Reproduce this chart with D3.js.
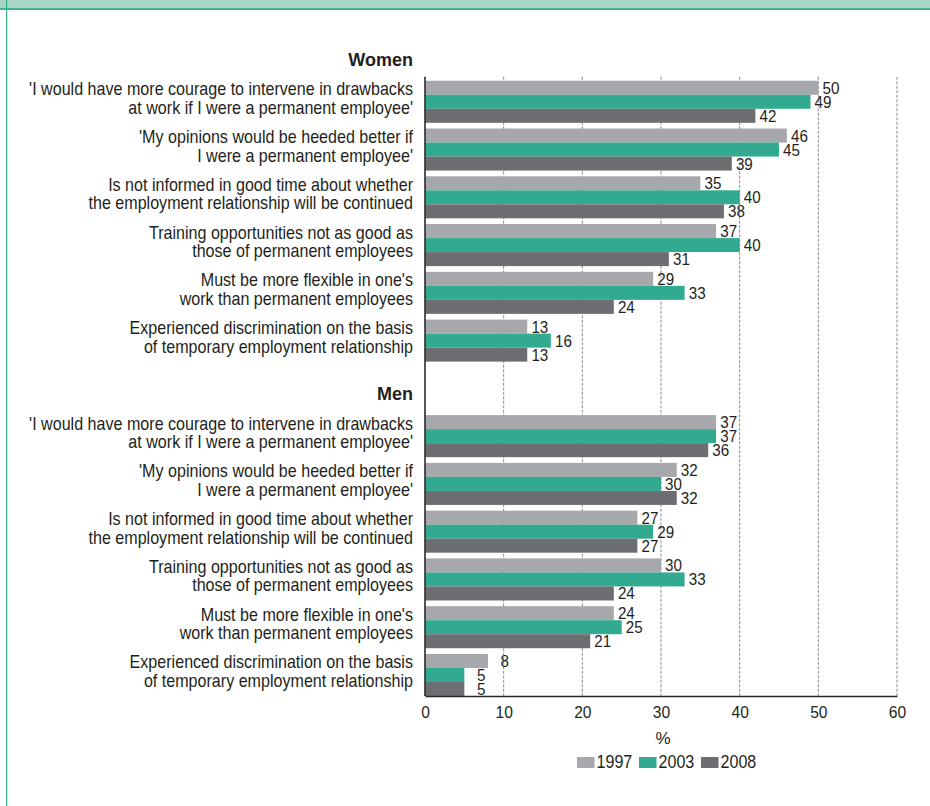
<!DOCTYPE html>
<html>
<head>
<meta charset="utf-8">
<script src="https://cdn.jsdelivr.net/npm/d3@7/dist/d3.min.js"></script>
<style>
  html, body { margin: 0; padding: 0; background: #fff; }
  svg { display: block; }
  text { font-family: "Liberation Sans", Arial, sans-serif; fill: #231f20; }
</style>
</head>
<body>
<svg id="chart" width="930" height="806"></svg>
<script>
// Survey items (two-line labels), shown for both sexes
const itemLabels = [
  ["'I would have more courage to intervene in drawbacks", "at work if I were a permanent employee'"],
  ["'My opinions would be heeded better if", "I were a permanent employee'"],
  ["Is not informed in good time about whether", "the employment relationship will be continued"],
  ["Training opportunities not as good as", "those of permanent employees"],
  ["Must be more flexible in one's", "work than permanent employees"],
  ["Experienced discrimination on the basis", "of temporary employment relationship"]
];
const groups = ["Women", "Men"];
const years = ["1997", "2003", "2008"];

// Share of temporary employees (%) per item
const women1997 = [50, 46, 35, 37, 29, 13];
const women2003 = [49, 45, 40, 40, 33, 16];
const women2008 = [42, 39, 38, 31, 24, 13];
const men1997 = [37, 32, 27, 30, 24, 8];
const men2003 = [37, 30, 29, 33, 25, 5];
const men2008 = [36, 32, 27, 24, 21, 5];

const xTicks = [0, 10, 20, 30, 40, 50, 60];
const yearColors = ["#a7a8ab", "#32aa8f", "#6d6e71"];

const seriesByGroup = {
  Women: [women1997, women2003, women2008],
  Men: [men1997, men2003, men2008]
};

// Rows: a heading row per group followed by its items
const rows = [];
groups.forEach(g => {
  rows.push({ key: g, heading: true, group: g });
  itemLabels.forEach((lines, i) => {
    rows.push({
      key: g + "-" + i, heading: false, group: g, lines,
      values: years.map((yr, k) => ({ year: yr, value: seriesByGroup[g][k][i] }))
    });
  });
});

const svg = d3.select("#chart");
const W = 930, H = 806;
const condense = 0.92; // horizontal squeeze for the narrow label type

// Page frame: header band and left rule
svg.append("rect").attr("x", 0).attr("y", 0).attr("width", W).attr("height", 9).attr("fill", "#a9d5c9");
svg.append("rect").attr("x", 0).attr("y", 8).attr("width", W).attr("height", 2).attr("fill", "#45af8e");
svg.append("rect").attr("x", 6).attr("y", 0).attr("width", 1.2).attr("height", H).attr("fill", "#34b088");

const plotLeft = 425, plotRight = 897, plotTop = 33, plotBottom = 696;

const x = d3.scaleLinear().domain([0, 60]).range([plotLeft, plotRight]);
const y = d3.scaleBand().domain(rows.map(r => r.key)).range([plotTop, plotBottom]).paddingInner(0.12).paddingOuter(0);
const yInner = d3.scaleBand().domain(years).range([0, y.bandwidth()]);
const color = d3.scaleOrdinal().domain(years).range(yearColors);

const firstItemTop = y(rows[1].key);
const gridTop = firstItemTop - 4;

// Dashed vertical gridlines
svg.append("g").selectAll("line")
  .data(xTicks.filter(t => t > 0))
  .join("line")
  .attr("x1", d => x(d)).attr("x2", d => x(d))
  .attr("y1", gridTop).attr("y2", plotBottom)
  .attr("stroke", "#8a8a8a").attr("stroke-width", 1)
  .attr("stroke-dasharray", "3,1.5");

// Bars
const rowG = svg.append("g").selectAll("g")
  .data(rows.filter(r => !r.heading))
  .join("g")
  .attr("transform", r => `translate(0,${y(r.key)})`);

rowG.selectAll("rect")
  .data(r => r.values)
  .join("rect")
  .attr("x", x(0))
  .attr("y", d => yInner(d.year))
  .attr("width", d => x(d.value) - x(0))
  .attr("height", yInner.bandwidth())
  .attr("fill", d => color(d.year));

// Value labels
rowG.selectAll("text.val")
  .data(r => r.values)
  .join("text")
  .attr("class", "val")
  .attr("transform", d => `translate(${x(d.value) + 21},${yInner(d.year) + yInner.bandwidth() - 1}) scale(${condense},1)`)
  .attr("text-anchor", "end")
  .style("font-size", "16.5px")
  .text(d => d.value);

// Item labels
rowG.append("text")
  .attr("transform", `translate(413,0) scale(${condense},1)`)
  .attr("text-anchor", "end")
  .style("font-size", "17.5px")
  .selectAll("tspan")
  .data(r => r.lines.map((t, i) => ({ t, i })))
  .join("tspan")
  .attr("x", 0)
  .attr("y", d => y.bandwidth() / 2 + (d.i === 0 ? -6.5 : 12))
  .text(d => d.t);

// Group headings
svg.append("g").selectAll("text")
  .data(rows.filter(r => r.heading))
  .join("text")
  .attr("x", 413)
  .attr("y", r => y(r.key) + y.bandwidth() - 9)
  .attr("text-anchor", "end")
  .style("font-size", "18px")
  .style("font-weight", "bold")
  .text(r => r.group);

// Axes
const xAxis = d3.axisBottom(x).tickValues(xTicks).tickSize(0).tickPadding(10);
const gx = svg.append("g").attr("transform", `translate(0,${plotBottom})`).call(xAxis);
gx.attr("font-family", null).attr("font-size", null);
gx.select(".domain").attr("stroke", "#2b2b2b").attr("stroke-width", 1.6);
gx.selectAll(".tick text")
  .style("font-size", "17px")
  .attr("fill", "#231f20")
  .attr("transform", `scale(${condense},1)`)
  .attr("x", 0);

svg.append("line")
  .attr("x1", plotLeft).attr("x2", plotLeft)
  .attr("y1", gridTop).attr("y2", plotBottom)
  .attr("stroke", "#2b2b2b").attr("stroke-width", 1.6);

// Axis unit
svg.append("text")
  .attr("x", x(30) + 2)
  .attr("y", 744)
  .attr("text-anchor", "middle")
  .style("font-size", "17px")
  .text("%");

// Legend
const legend = svg.append("g").attr("transform", "translate(577,757)");
const item = legend.selectAll("g")
  .data(years)
  .join("g")
  .attr("transform", (d, i) => `translate(${i * 62},0)`);
item.append("rect").attr("width", 17.5).attr("height", 11).attr("fill", d => color(d));
item.append("text")
  .attr("transform", `translate(19.5,11.3) scale(${condense},1)`)
  .style("font-size", "17.5px")
  .text(d => d);
</script>
</body>
</html>
